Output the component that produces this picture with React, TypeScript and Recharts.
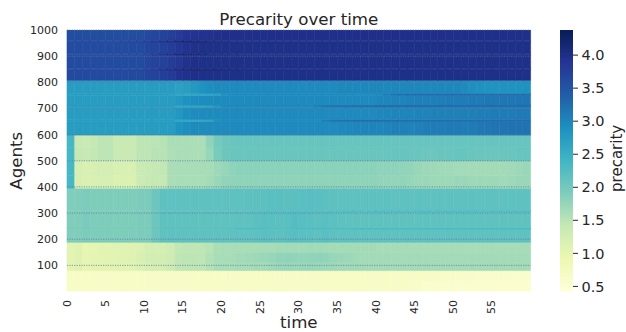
import React from 'react';
import { BarChart, Bar, XAxis, YAxis, Cell, ReferenceLine, Label } from 'recharts';

// ---------- categories / ticks ----------
const TIMES = [
  0, 1, 2, 3, 4, 5, 6, 7, 8, 9, 10, 11, 12, 13, 14, 15, 16, 17, 18, 19,
  20, 21, 22, 23, 24, 25, 26, 27, 28, 29, 30, 31, 32, 33, 34, 35, 36, 37, 38, 39,
  40, 41, 42, 43, 44, 45, 46, 47, 48, 49, 50, 51, 52, 53, 54, 55, 56, 57, 58, 59,
];
// agent-row boundaries (bottom to top), one heat row between consecutive edges
const AGENT_EDGES = [0, 42, 80, 112, 150, 188, 238, 243, 306, 311, 395, 445, 500, 550, 598, 650, 658, 705, 713, 750, 758, 808, 848, 854, 905, 911, 955, 961, 1000];
const AGENT_TICKS = [100, 200, 300, 400, 500, 600, 700, 800, 900, 1000];
const CB_TICKS = [0.5, 1.0, 1.5, 2.0, 2.5, 3.0, 3.5, 4.0];
const V_MIN = 0.42;
const V_MAX = 4.38;
const YLGNBU = ['#ffffd9', '#edf8b1', '#c7e9b4', '#7fcdbb', '#41b6c4', '#1d91c0', '#225ea8', '#253494', '#081d58'];

// ---------- precarity values per agent row, t = 0..59 ----------
const A1 = [
  0.64, 0.64, 0.64, 0.64, 0.64, 0.64, 0.64, 0.64, 0.64, 0.64,
  0.64, 0.64, 0.64, 0.64, 0.64, 0.64, 0.64, 0.64, 0.64, 0.64,
  0.64, 0.64, 0.64, 0.64, 0.64, 0.64, 0.64, 0.64, 0.64, 0.64,
  0.64, 0.64, 0.64, 0.64, 0.64, 0.64, 0.64, 0.64, 0.64, 0.64,
  0.64, 0.64, 0.64, 0.64, 0.62, 0.62, 0.57, 0.57, 0.56, 0.56,
  0.56, 0.56, 0.55, 0.55, 0.55, 0.55, 0.54, 0.54, 0.54, 0.54,
];
const A2 = [
  0.65, 0.65, 0.65, 0.65, 0.65, 0.65, 0.65, 0.65, 0.65, 0.65,
  0.65, 0.65, 0.65, 0.65, 0.65, 0.65, 0.65, 0.65, 0.65, 0.65,
  0.65, 0.65, 0.65, 0.65, 0.65, 0.65, 0.65, 0.65, 0.65, 0.65,
  0.65, 0.65, 0.65, 0.65, 0.65, 0.65, 0.65, 0.65, 0.65, 0.65,
  0.65, 0.65, 0.65, 0.65, 0.64, 0.64, 0.64, 0.64, 0.63, 0.63,
  0.60, 0.60, 0.60, 0.59, 0.59, 0.59, 0.58, 0.58, 0.58, 0.58,
];
const B1 = [
  1.05, 1.10, 1.00, 1.04, 1.05, 1.05, 1.08, 1.09, 1.09, 1.15,
  1.24, 1.24, 1.25, 1.35, 1.46, 1.47, 1.47, 1.48, 1.55, 1.62,
  1.63, 1.63, 1.64, 1.64, 1.65, 1.66, 1.70, 1.72, 1.74, 1.72,
  1.74, 1.75, 1.72, 1.70, 1.70, 1.68, 1.68, 1.67, 1.66, 1.66,
  1.66, 1.66, 1.66, 1.66, 1.66, 1.66, 1.66, 1.66, 1.66, 1.66,
  1.66, 1.66, 1.66, 1.66, 1.65, 1.65, 1.65, 1.65, 1.65, 1.65,
];
const B2 = [
  1.04, 1.10, 1.00, 1.03, 1.04, 1.05, 1.08, 1.09, 1.10, 1.18,
  1.25, 1.25, 1.26, 1.30, 1.46, 1.47, 1.48, 1.48, 1.56, 1.62,
  1.63, 1.64, 1.66, 1.68, 1.70, 1.72, 1.75, 1.78, 1.80, 1.78,
  1.77, 1.78, 1.80, 1.78, 1.75, 1.72, 1.70, 1.68, 1.66, 1.66,
  1.66, 1.66, 1.66, 1.66, 1.66, 1.66, 1.66, 1.66, 1.66, 1.66,
  1.66, 1.66, 1.66, 1.66, 1.66, 1.66, 1.66, 1.66, 1.66, 1.66,
];
const B3 = [
  1.06, 1.10, 0.98, 1.02, 1.04, 1.05, 1.07, 1.08, 1.10, 1.12,
  1.23, 1.24, 1.24, 1.30, 1.45, 1.46, 1.46, 1.47, 1.52, 1.60,
  1.62, 1.62, 1.62, 1.63, 1.63, 1.64, 1.64, 1.65, 1.66, 1.66,
  1.66, 1.67, 1.67, 1.66, 1.65, 1.65, 1.65, 1.65, 1.65, 1.65,
  1.64, 1.64, 1.64, 1.64, 1.64, 1.64, 1.64, 1.64, 1.64, 1.64,
  1.64, 1.64, 1.64, 1.64, 1.64, 1.64, 1.64, 1.64, 1.64, 1.64,
];
const C1 = [
  1.90, 1.90, 1.93, 1.91, 1.91, 1.91, 1.91, 1.91, 1.91, 1.92,
  1.93, 2.05, 2.15, 2.16, 2.16, 2.16, 2.16, 2.16, 2.16, 2.16,
  2.16, 2.16, 2.16, 2.16, 2.17, 2.20, 2.18, 2.17, 2.20, 2.22,
  2.20, 2.18, 2.17, 2.20, 2.17, 2.16, 2.16, 2.16, 2.16, 2.16,
  2.16, 2.16, 2.16, 2.16, 2.16, 2.16, 2.16, 2.16, 2.16, 2.16,
  2.16, 2.16, 2.16, 2.16, 2.16, 2.16, 2.16, 2.16, 2.16, 2.16,
];
const C2 = [
  1.92, 1.92, 1.98, 1.93, 1.93, 1.93, 1.93, 1.93, 1.93, 1.94,
  1.95, 2.10, 2.18, 2.18, 2.18, 2.18, 2.18, 2.18, 2.20, 2.20,
  2.22, 2.25, 2.30, 2.30, 2.30, 2.28, 2.25, 2.25, 2.28, 2.30,
  2.30, 2.30, 2.32, 2.32, 2.30, 2.30, 2.32, 2.35, 2.35, 2.35,
  2.35, 2.35, 2.35, 2.35, 2.35, 2.35, 2.35, 2.35, 2.35, 2.35,
  2.35, 2.35, 2.35, 2.35, 2.35, 2.35, 2.35, 2.35, 2.35, 2.35,
];
const C3 = [
  1.90, 1.90, 1.94, 1.91, 1.91, 1.91, 1.91, 1.91, 1.91, 1.92,
  1.93, 2.05, 2.15, 2.15, 2.15, 2.15, 2.15, 2.15, 2.15, 2.15,
  2.15, 2.15, 2.16, 2.16, 2.18, 2.22, 2.20, 2.18, 2.20, 2.24,
  2.22, 2.20, 2.18, 2.20, 2.18, 2.16, 2.15, 2.15, 2.15, 2.15,
  2.15, 2.15, 2.15, 2.15, 2.15, 2.15, 2.15, 2.15, 2.15, 2.15,
  2.15, 2.15, 2.15, 2.15, 2.15, 2.15, 2.15, 2.15, 2.15, 2.15,
];
const C4 = [
  1.92, 1.92, 1.96, 1.92, 1.92, 1.92, 1.92, 1.92, 1.92, 1.93,
  1.95, 2.08, 2.17, 2.17, 2.17, 2.17, 2.17, 2.17, 2.18, 2.18,
  2.18, 2.20, 2.20, 2.22, 2.25, 2.28, 2.30, 2.30, 2.28, 2.30,
  2.30, 2.32, 2.32, 2.30, 2.32, 2.33, 2.35, 2.35, 2.35, 2.35,
  2.35, 2.35, 2.35, 2.35, 2.35, 2.35, 2.35, 2.35, 2.35, 2.35,
  2.35, 2.35, 2.35, 2.35, 2.35, 2.35, 2.35, 2.35, 2.35, 2.35,
];
const C5 = [
  1.90, 1.90, 1.93, 1.91, 1.91, 1.91, 1.91, 1.91, 1.91, 1.92,
  1.93, 2.05, 2.16, 2.16, 2.16, 2.16, 2.16, 2.16, 2.16, 2.16,
  2.16, 2.16, 2.16, 2.17, 2.17, 2.18, 2.20, 2.20, 2.18, 2.20,
  2.20, 2.22, 2.20, 2.18, 2.17, 2.16, 2.16, 2.16, 2.16, 2.16,
  2.16, 2.16, 2.16, 2.16, 2.16, 2.16, 2.16, 2.16, 2.16, 2.16,
  2.16, 2.16, 2.16, 2.16, 2.16, 2.16, 2.16, 2.16, 2.16, 2.16,
];
const D1 = [
  2.35, 1.20, 1.17, 1.18, 1.22, 1.22, 1.16, 1.16, 1.16, 1.35,
  1.40, 1.42, 1.42, 1.60, 1.63, 1.63, 1.63, 1.63, 1.65, 1.72,
  1.78, 1.80, 1.80, 1.80, 1.80, 1.80, 1.80, 1.80, 1.80, 1.80,
  1.80, 1.80, 1.80, 1.80, 1.80, 1.80, 1.80, 1.80, 1.80, 1.80,
  1.78, 1.76, 1.76, 1.78, 1.75, 1.72, 1.72, 1.70, 1.70, 1.70,
  1.72, 1.72, 1.70, 1.70, 1.70, 1.70, 1.68, 1.70, 1.72, 1.72,
];
const D2 = [
  2.35, 1.22, 1.18, 1.20, 1.24, 1.24, 1.18, 1.17, 1.17, 1.36,
  1.40, 1.42, 1.44, 1.60, 1.63, 1.63, 1.63, 1.64, 1.64, 1.70,
  1.75, 1.80, 1.82, 1.82, 1.82, 1.82, 1.82, 1.82, 1.82, 1.82,
  1.82, 1.82, 1.82, 1.82, 1.82, 1.82, 1.82, 1.82, 1.82, 1.82,
  1.80, 1.80, 1.80, 1.78, 1.76, 1.72, 1.70, 1.70, 1.68, 1.68,
  1.66, 1.66, 1.66, 1.65, 1.65, 1.65, 1.65, 1.68, 1.70, 1.72,
];
const E1 = [
  2.35, 1.42, 1.40, 1.43, 1.48, 1.48, 1.38, 1.38, 1.38, 1.48,
  1.48, 1.52, 1.52, 1.58, 1.60, 1.60, 1.60, 1.60, 1.75, 1.95,
  2.05, 2.07, 2.08, 2.08, 2.08, 2.08, 2.08, 2.08, 2.08, 2.08,
  2.08, 2.08, 2.08, 2.08, 2.08, 2.08, 2.08, 2.08, 2.08, 2.08,
  2.08, 2.08, 2.10, 2.10, 2.08, 2.08, 2.06, 2.06, 2.08, 2.08,
  2.10, 2.10, 2.08, 2.08, 2.06, 2.06, 2.08, 2.08, 2.10, 2.10,
];
const E2 = [
  2.35, 1.40, 1.38, 1.42, 1.47, 1.47, 1.37, 1.37, 1.37, 1.47,
  1.48, 1.50, 1.53, 1.60, 1.60, 1.60, 1.60, 1.60, 1.80, 1.98,
  2.06, 2.08, 2.09, 2.10, 2.10, 2.10, 2.10, 2.10, 2.10, 2.10,
  2.10, 2.10, 2.10, 2.10, 2.10, 2.10, 2.10, 2.10, 2.10, 2.10,
  2.10, 2.10, 2.10, 2.10, 2.10, 2.10, 2.10, 2.10, 2.10, 2.10,
  2.10, 2.10, 2.10, 2.10, 2.10, 2.10, 2.10, 2.10, 2.10, 2.10,
];
const F1 = [
  2.74, 2.74, 2.74, 2.74, 2.74, 2.74, 2.74, 2.74, 2.74, 2.74,
  2.74, 2.74, 2.74, 2.74, 2.85, 2.90, 2.95, 2.95, 2.96, 2.96,
  2.96, 2.96, 2.96, 2.96, 2.96, 2.96, 2.96, 2.96, 2.96, 2.96,
  2.96, 2.96, 2.96, 2.96, 2.96, 2.97, 2.98, 3.00, 3.00, 3.02,
  3.00, 3.02, 3.05, 3.05, 3.02, 3.05, 3.08, 3.10, 3.10, 3.12,
  3.12, 3.10, 3.12, 3.15, 3.15, 3.18, 3.18, 3.20, 3.20, 3.20,
];
const F2 = [
  2.74, 2.74, 2.74, 2.74, 2.74, 2.74, 2.74, 2.74, 2.74, 2.74,
  2.74, 2.74, 2.74, 2.74, 2.62, 2.60, 2.60, 2.62, 2.66, 2.90,
  2.96, 2.96, 2.96, 2.96, 2.96, 2.96, 2.96, 2.96, 2.96, 2.96,
  2.96, 2.96, 2.96, 3.10, 3.20, 3.22, 3.22, 3.25, 3.25, 3.25,
  3.25, 3.25, 3.25, 3.25, 3.25, 3.25, 3.25, 3.25, 3.25, 3.25,
  3.25, 3.25, 3.25, 3.25, 3.25, 3.25, 3.25, 3.25, 3.25, 3.25,
];
const F3 = [
  2.74, 2.74, 2.74, 2.74, 2.74, 2.74, 2.74, 2.74, 2.74, 2.74,
  2.74, 2.74, 2.74, 2.74, 2.82, 2.90, 2.94, 2.95, 2.95, 2.95,
  2.96, 2.96, 2.96, 2.96, 2.96, 2.96, 2.96, 2.96, 2.96, 2.96,
  2.96, 2.96, 2.96, 2.96, 2.96, 2.96, 2.96, 2.96, 2.96, 2.96,
  2.98, 2.98, 3.00, 3.00, 3.00, 3.02, 3.02, 3.04, 3.04, 3.05,
  3.05, 3.06, 3.06, 3.08, 3.08, 3.10, 3.10, 3.10, 3.12, 3.12,
];
const F4 = [
  2.74, 2.74, 2.74, 2.74, 2.74, 2.74, 2.74, 2.74, 2.74, 2.74,
  2.74, 2.74, 2.74, 2.72, 2.60, 2.60, 2.62, 2.64, 2.68, 2.82,
  2.95, 2.95, 2.95, 2.95, 2.95, 2.95, 2.95, 2.95, 2.95, 2.95,
  2.96, 2.96, 3.05, 3.15, 3.20, 3.20, 3.22, 3.22, 3.22, 3.22,
  3.24, 3.24, 3.24, 3.24, 3.24, 3.24, 3.24, 3.24, 3.24, 3.24,
  3.24, 3.24, 3.24, 3.24, 3.24, 3.24, 3.24, 3.24, 3.24, 3.24,
];
const F5 = [
  2.74, 2.74, 2.74, 2.74, 2.74, 2.74, 2.74, 2.74, 2.74, 2.74,
  2.74, 2.74, 2.74, 2.74, 2.80, 2.88, 2.92, 2.94, 2.95, 2.95,
  2.96, 2.96, 2.96, 2.96, 2.96, 2.96, 2.96, 2.96, 2.96, 2.96,
  2.96, 2.96, 2.96, 2.96, 2.96, 2.96, 2.96, 2.96, 2.96, 2.96,
  3.00, 3.00, 3.02, 3.02, 3.04, 3.05, 3.05, 3.06, 3.08, 3.10,
  3.10, 3.10, 3.12, 3.12, 3.14, 3.14, 3.15, 3.15, 3.16, 3.16,
];
const F6 = [
  2.74, 2.74, 2.74, 2.74, 2.74, 2.74, 2.74, 2.74, 2.74, 2.74,
  2.74, 2.74, 2.74, 2.72, 2.62, 2.60, 2.62, 2.64, 2.66, 2.70,
  2.90, 2.95, 2.96, 2.96, 2.96, 2.96, 2.96, 2.96, 2.96, 2.96,
  2.96, 2.96, 2.96, 2.96, 2.96, 2.96, 2.96, 2.96, 2.96, 2.96,
  3.00, 3.10, 3.20, 3.22, 3.25, 3.25, 3.25, 3.25, 3.25, 3.25,
  3.25, 3.25, 3.25, 3.25, 3.25, 3.25, 3.25, 3.25, 3.25, 3.25,
];
const F7 = [
  2.74, 2.74, 2.74, 2.74, 2.74, 2.74, 2.74, 2.74, 2.74, 2.74,
  2.74, 2.74, 2.74, 2.74, 2.70, 2.72, 2.80, 2.88, 2.92, 2.95,
  2.96, 2.96, 2.96, 2.96, 2.96, 2.96, 2.96, 2.96, 2.96, 2.96,
  2.96, 2.96, 2.96, 2.96, 2.96, 2.98, 2.98, 2.98, 2.98, 2.98,
  2.98, 2.98, 2.98, 2.98, 2.98, 2.98, 2.98, 2.98, 2.98, 2.98,
  2.98, 2.95, 2.90, 2.88, 2.86, 2.85, 2.85, 2.85, 2.86, 2.88,
];
const G1 = [
  3.62, 3.62, 3.62, 3.62, 3.62, 3.62, 3.62, 3.62, 3.62, 3.62,
  3.68, 3.70, 3.75, 3.80, 3.90, 3.95, 3.97, 3.98, 3.98, 3.98,
  3.98, 3.98, 3.98, 3.98, 3.98, 3.98, 3.98, 3.98, 3.98, 3.98,
  3.98, 3.98, 3.98, 3.98, 3.98, 3.98, 3.98, 3.98, 3.98, 3.98,
  3.98, 3.98, 3.98, 3.98, 3.98, 3.98, 3.98, 3.98, 3.98, 3.98,
  3.98, 3.98, 3.98, 3.98, 3.98, 3.98, 3.98, 3.98, 3.98, 3.98,
];
const G2 = [
  3.62, 3.62, 3.62, 3.62, 3.62, 3.62, 3.62, 3.62, 3.65, 3.70,
  3.80, 3.90, 4.05, 4.10, 4.20, 4.22, 4.25, 4.22, 4.20, 4.20,
  4.18, 4.15, 4.15, 4.12, 4.10, 4.08, 4.05, 4.02, 4.00, 4.00,
  3.99, 3.99, 3.99, 3.99, 3.99, 3.99, 3.99, 3.99, 3.99, 3.99,
  3.99, 3.99, 3.99, 3.99, 3.99, 3.99, 3.99, 3.99, 3.99, 3.99,
  3.99, 3.99, 3.99, 3.99, 3.99, 3.99, 3.99, 3.99, 3.99, 3.99,
];
const G3 = [
  3.60, 3.60, 3.60, 3.60, 3.60, 3.60, 3.60, 3.60, 3.60, 3.60,
  3.66, 3.70, 3.72, 3.78, 3.85, 3.95, 3.97, 3.98, 3.98, 3.98,
  3.98, 3.98, 3.98, 3.98, 3.98, 3.98, 3.98, 3.98, 3.98, 3.98,
  3.98, 3.98, 3.98, 3.98, 3.98, 3.98, 3.98, 3.98, 3.98, 3.98,
  3.98, 3.98, 3.98, 3.98, 3.98, 3.98, 3.98, 3.98, 3.98, 3.98,
  3.98, 3.98, 3.98, 3.98, 3.98, 3.98, 3.98, 3.98, 3.98, 3.98,
];
const G4 = [
  3.65, 3.65, 3.65, 3.65, 3.65, 3.65, 3.65, 3.70, 3.72, 3.75,
  3.85, 3.95, 4.10, 4.15, 4.30, 4.28, 4.25, 4.22, 4.15, 4.10,
  4.08, 4.05, 4.02, 4.00, 3.99, 3.99, 3.99, 3.99, 3.99, 3.99,
  3.99, 3.99, 3.99, 3.99, 3.99, 3.99, 3.99, 3.99, 3.99, 3.99,
  3.99, 3.99, 3.99, 3.99, 3.99, 3.99, 3.99, 3.99, 3.99, 3.99,
  3.99, 3.99, 3.99, 3.99, 3.99, 3.99, 3.99, 3.99, 3.99, 3.99,
];
const G5 = [
  3.60, 3.60, 3.60, 3.60, 3.60, 3.60, 3.60, 3.60, 3.60, 3.60,
  3.66, 3.68, 3.72, 3.78, 3.85, 3.93, 3.96, 3.98, 3.98, 3.98,
  3.98, 3.98, 3.98, 3.98, 3.98, 3.98, 3.98, 3.98, 3.98, 3.98,
  3.98, 3.98, 3.98, 3.98, 3.98, 3.98, 3.98, 3.98, 3.98, 3.98,
  3.98, 3.98, 3.98, 3.98, 3.98, 3.98, 3.98, 3.98, 3.98, 3.98,
  3.98, 3.98, 3.98, 3.98, 3.98, 3.98, 3.98, 3.98, 3.98, 3.98,
];
const G6 = [
  3.68, 3.68, 3.68, 3.68, 3.68, 3.70, 3.70, 3.72, 3.75, 3.80,
  3.90, 4.00, 4.10, 4.15, 4.30, 4.30, 4.25, 4.20, 4.15, 4.10,
  4.05, 4.00, 3.99, 3.99, 3.99, 3.99, 3.99, 3.99, 3.99, 3.99,
  3.99, 3.99, 3.99, 3.99, 3.99, 3.99, 3.99, 3.99, 3.99, 3.99,
  3.99, 3.99, 3.99, 3.99, 3.99, 3.99, 3.99, 3.99, 3.99, 3.99,
  3.99, 3.99, 3.99, 3.99, 3.99, 3.99, 3.99, 3.99, 3.99, 3.99,
];
const G7 = [
  3.58, 3.58, 3.58, 3.58, 3.58, 3.58, 3.58, 3.58, 3.58, 3.58,
  3.64, 3.66, 3.70, 3.75, 3.82, 3.88, 3.90, 3.92, 3.94, 3.96,
  3.97, 3.97, 3.97, 3.97, 3.97, 3.97, 3.97, 3.97, 3.97, 3.97,
  3.97, 3.97, 3.97, 3.97, 3.97, 3.97, 3.97, 3.97, 3.97, 3.97,
  3.97, 3.97, 3.97, 3.97, 3.97, 3.97, 3.97, 3.97, 3.97, 3.97,
  3.97, 3.97, 3.97, 3.97, 3.97, 3.97, 3.97, 3.97, 3.97, 3.97,
];

const ROWS = [A1, A2, B1, B2, B3, C1, C2, C3, C4, C5, D1, D2, E1, E2, F1, F2, F3, F4, F5, F6, F7, G1, G2, G3, G4, G5, G6, G7];

// ---------- styling / layout ----------
const FONT = '"DejaVu Sans", sans-serif';
const INK = '#262626';
const W = 626;
const H = 332;
const PLOT_L = 67;
const PLOT_R = 530.6;
const PLOT_T = 30;
const PLOT_B = 291.5;
const BAND = (PLOT_R - PLOT_L) / TIMES.length;

function hexToRgb(h: string) {
  return [parseInt(h.slice(1, 3), 16), parseInt(h.slice(3, 5), 16), parseInt(h.slice(5, 7), 16)];
}
const STOP_RGB = YLGNBU.map(hexToRgb);

function colorOf(v: number) {
  let n = (v - V_MIN) / (V_MAX - V_MIN);
  n = Math.max(0, Math.min(1, n));
  const p = n * (STOP_RGB.length - 1);
  const i = Math.min(STOP_RGB.length - 2, Math.floor(p));
  const f = p - i;
  const a = STOP_RGB[i];
  const b = STOP_RGB[i + 1];
  const c = a.map((x, k) => Math.round(x + (b[k] - x) * f));
  return `rgb(${c[0]},${c[1]},${c[2]})`;
}

const table = TIMES.map((t) => {
  const o: Record<string, number> = { t };
  ROWS.forEach((_, k) => {
    o['r' + k] = AGENT_EDGES[k + 1] - AGENT_EDGES[k];
  });
  return o;
});

const CB_DATA = [{ name: 'precarity', range: [V_MIN, V_MAX] }];

const TimeTick = (props: any) => {
  const { x, y, payload } = props;
  return (
    <text
      transform={`translate(${x - BAND / 2},${y + 8.5}) rotate(-90)`}
      textAnchor="end"
      dominantBaseline="central"
      fontSize={11}
      fill={INK}
      fontFamily={FONT}
    >
      {payload.value}
    </text>
  );
};

export default function App() {
  return (
    <div style={{ position: 'absolute', left: 0, top: 0, width: W, height: H, background: '#ffffff', fontFamily: FONT }}>
      <div style={{ position: 'absolute', left: 0, top: 0 }}>
        <BarChart
          width={W}
          height={H}
          data={table}
          margin={{ top: PLOT_T, right: W - PLOT_R, bottom: 0, left: 7 }}
          barCategoryGap={0}
          barGap={0}
          barSize={BAND - 0.005}
        >
          <XAxis
            dataKey="t"
            height={H - PLOT_B}
            interval={4}
            tickLine={false}
            axisLine={false}
            tickSize={0}
            tickMargin={0}
            tick={TimeTick}
          >
            <Label value="time" position="center" dy={10.3} fontSize={16.67} fill={INK} fontFamily={FONT} />
          </XAxis>
          <YAxis
            type="number"
            domain={[0, 1000]}
            ticks={AGENT_TICKS}
            width={60}
            tickLine={false}
            axisLine={false}
            tickSize={0}
            tickMargin={9}
            tick={{ fontSize: 11, fill: INK, fontFamily: FONT }}
            allowDataOverflow
          >
            <Label value="Agents" angle={-90} position="center" dx={-20.7} fontSize={16.67} fill={INK} fontFamily={FONT} />
          </YAxis>
          {ROWS.map((vals, k) => (
            <Bar key={'row' + k} dataKey={'r' + k} stackId="heat" isAnimationActive={false}>
              {vals.map((v, i) => (
                <Cell key={i} fill={colorOf(v)} stroke={colorOf(v)} strokeWidth={0.6} />
              ))}
            </Bar>
          ))}
          {AGENT_TICKS.map((v) => (
            <ReferenceLine key={'g' + v} y={v} stroke="#5f78a4" strokeOpacity={0.75} strokeDasharray="1.2 1.2" strokeWidth={1} />
          ))}
        </BarChart>
      </div>
      <div style={{ position: 'absolute', left: 0, top: 0 }}>
        <BarChart
          width={W}
          height={H}
          data={CB_DATA}
          margin={{ top: 30, right: 3, bottom: H - 291.7, left: 560 }}
          barCategoryGap={0}
        >
          <defs>
            <linearGradient id="cbGrad" x1="0" y1="1" x2="0" y2="0">
              {YLGNBU.map((c, k) => (
                <stop key={k} offset={k / (YLGNBU.length - 1)} stopColor={c} />
              ))}
            </linearGradient>
          </defs>
          <XAxis dataKey="name" hide />
          <YAxis
            type="number"
            orientation="right"
            domain={[V_MIN, V_MAX]}
            ticks={CB_TICKS}
            width={50}
            axisLine={false}
            tickSize={5}
            tickMargin={3.5}
            tickLine={{ stroke: INK }}
            tick={{ fontSize: 14.5, fill: INK, fontFamily: FONT }}
            tickFormatter={(v: number) => v.toFixed(1)}
            allowDataOverflow
          >
            <Label value="precarity" angle={-90} position="center" dx={18.6} dy={-2.5} fontSize={15} fill={INK} fontFamily={FONT} />
          </YAxis>
          <Bar dataKey="range" fill="url(#cbGrad)" isAnimationActive={false} />
        </BarChart>
      </div>
      <svg style={{ position: 'absolute', left: 0, top: 0 }} width={W} height={H}>
        <text x={298.8} y={24.9} textAnchor="middle" fontSize={16.67} fill={INK} fontFamily={FONT}>
          Precarity over time
        </text>
      </svg>
    </div>
  );
}
